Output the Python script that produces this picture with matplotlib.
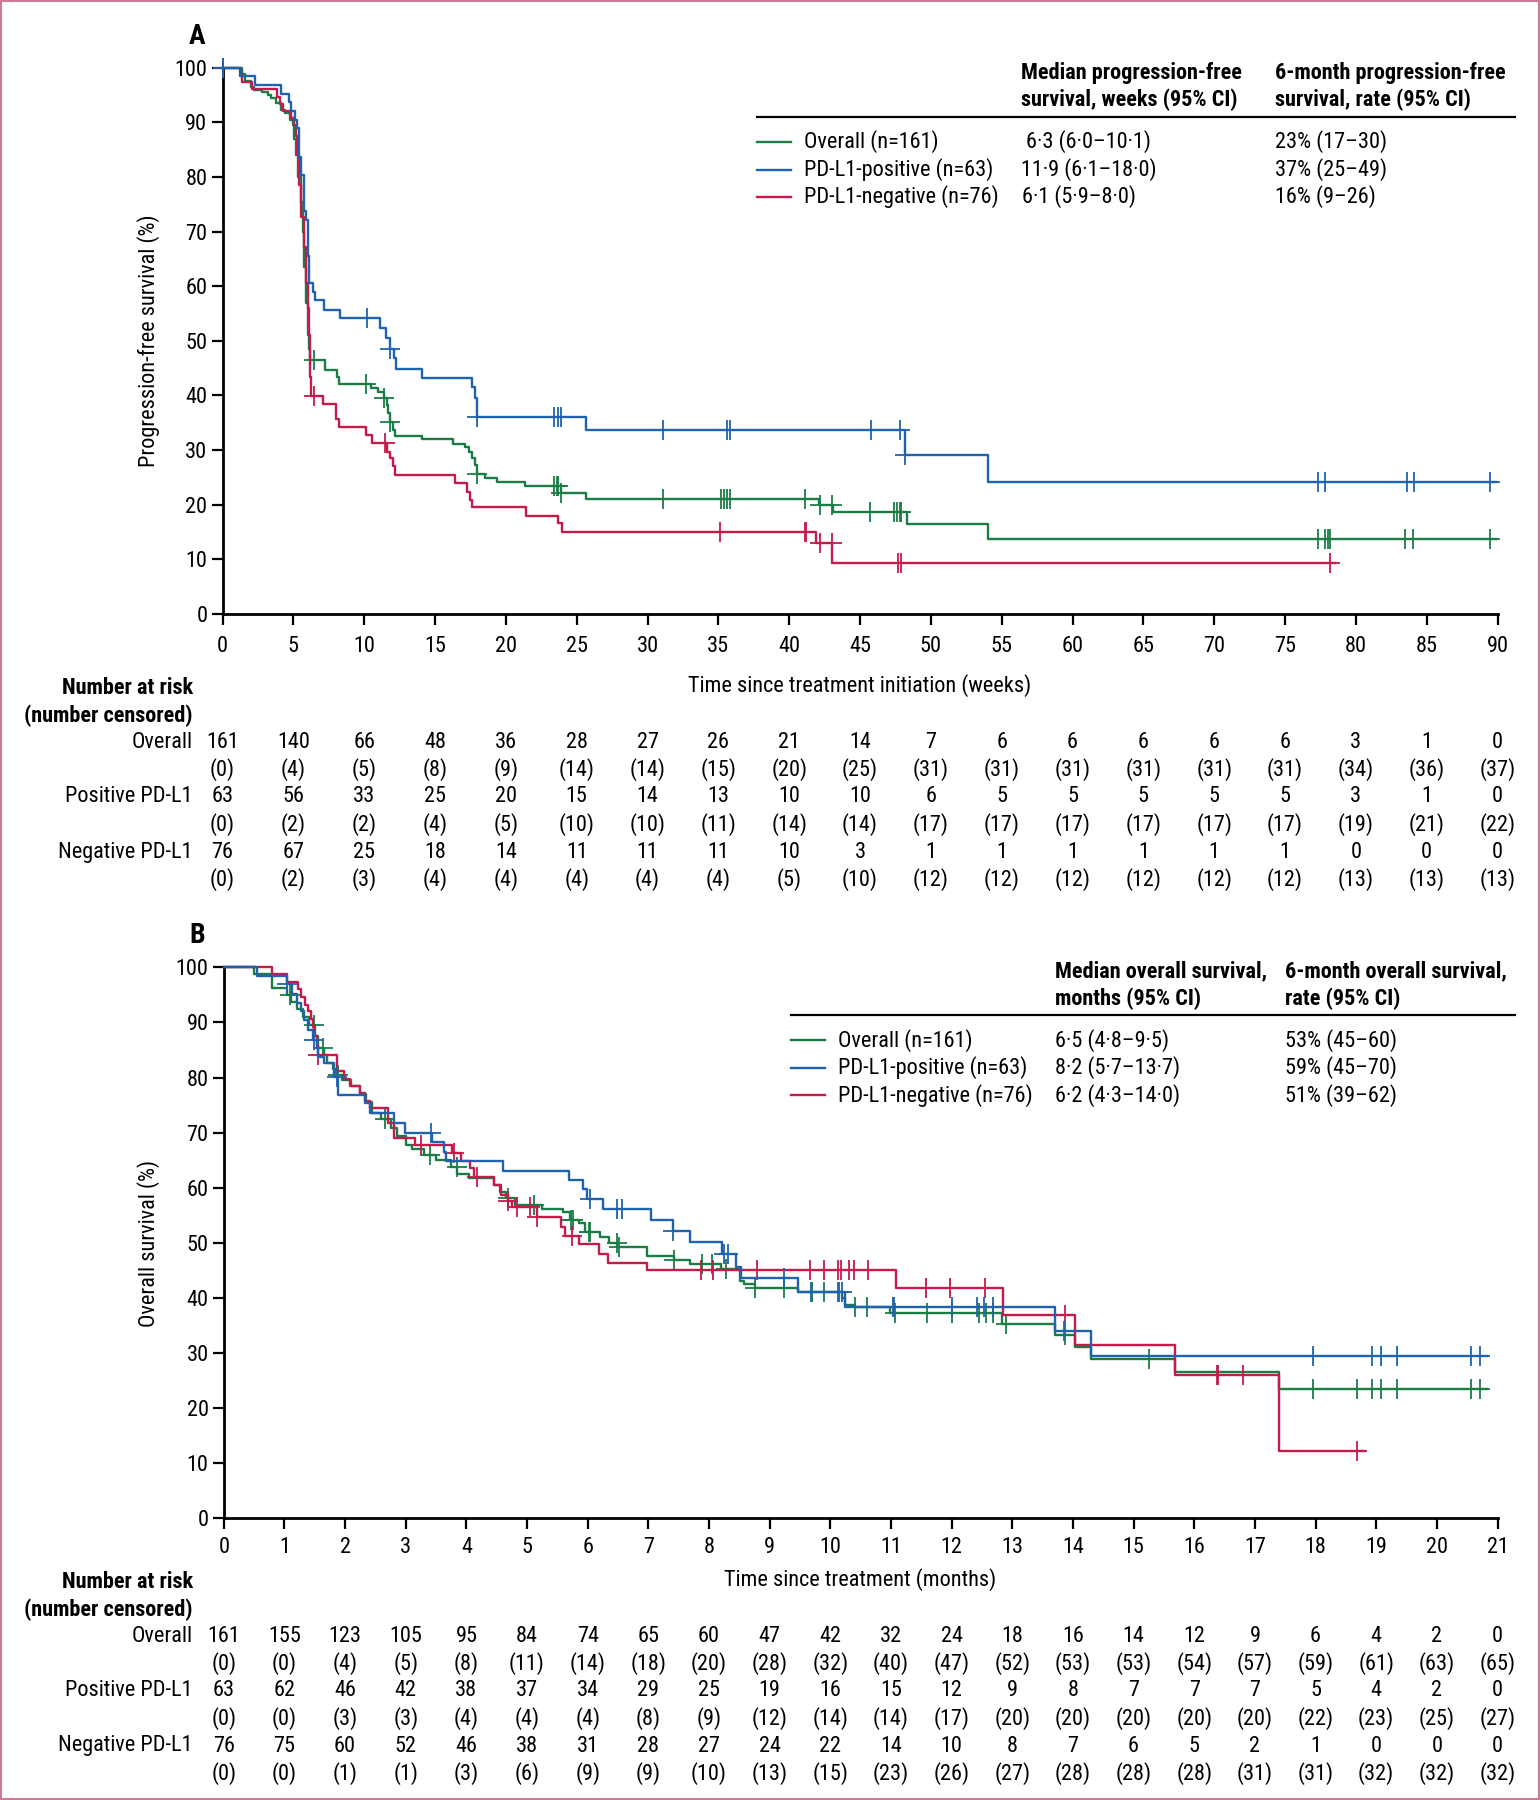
import numpy as np
import matplotlib
matplotlib.use('Agg')
import matplotlib.pyplot as plt
import matplotlib.transforms as mtransforms
from matplotlib.lines import Line2D
from matplotlib.patches import Rectangle
from matplotlib import font_manager

# pick a narrow font if there is one
names = {f.name for f in font_manager.fontManager.ttflist}
narrow = [n for n in ['Liberation Sans Narrow', 'DejaVu Sans Condensed', 'Roboto Condensed'] if n in names]
if narrow:
    FONT, FS = narrow[0], 16
else:
    FONT, FS = ('Roboto' if 'Roboto' in names else 'DejaVu Sans'), 13
plt.rcParams['font.family'] = [FONT, 'DejaVu Sans']
plt.rcParams['font.size'] = FS
BOLD = 'semibold'

GREEN = '#1a7d45'
BLUE = '#1f63ae'
RED = '#c51a4a'

# ---------------- panel A data (weeks) ----------------
pfs_all_t = [0, 1.4, 1.6, 2.0, 2.2, 2.8, 3.2, 3.45, 3.8, 4.1, 4.4, 4.75, 4.95, 5.05, 5.2, 5.35, 5.5, 5.65, 5.78, 5.9,
             6.02, 6.1, 6.16, 7.2, 8.05, 8.24, 10.5, 11.0, 11.4, 11.6, 11.7, 11.82, 12.0, 12.2, 14.1, 16.3, 17.1, 17.4,
             17.64, 17.8, 17.96, 18.5, 19.4, 21.35, 23.9, 25.66, 42.1, 43.1, 48.3, 54.05]
pfs_all_s = [100, 98.8, 97.5, 96.5, 96.0, 95.6, 95.0, 94.4, 93.5, 92.3, 91.7, 90.5, 89.5, 87.0, 84.0, 80.0, 75.5, 70.0,
             63.5, 57.0, 51.0, 48.5, 46.5, 44.7, 43.3, 42.1, 41.3, 40.7, 39.5, 38.3, 36.7, 35.2, 33.7, 32.6, 32.0, 31.1,
             30.6, 29.7, 28.5, 27.3, 25.6, 24.8, 24.2, 23.5, 22.1, 21.1, 20.0, 18.6, 16.4, 13.8]
pfs_all_cens = [6.48, 10.13, 11.4, 11.82, 17.96, 23.4, 23.6, 23.7, 23.9, 31.1, 35.2, 35.4, 35.6, 35.8, 41.1, 42.2, 43.0,
                45.7, 47.4, 47.6, 47.8, 47.9, 77.3, 77.8, 78.0, 78.2, 83.5, 84.0, 89.5]
pfs_all_end = 89.9

pfs_pos_t = [0, 1.2, 2.27, 4.1, 4.7, 4.84, 5.14, 5.27, 5.41, 5.54, 5.73, 5.86, 6.0, 6.11, 6.4, 6.54, 7.14, 8.3, 11.1,
             11.57, 11.82, 12.1, 12.26, 14.1, 17.64, 17.8, 17.96, 25.66, 48.2, 54.05]
pfs_pos_s = [100, 98.4, 96.8, 95.2, 93.7, 92.1, 90.5, 88.9, 83.6, 80.3, 73.8, 72.1, 65.6, 60.5, 59.0, 57.4, 55.7, 54.1,
             52.3, 50.5, 48.5, 46.8, 44.9, 43.1, 41.6, 39.5, 36.0, 33.6, 29.1, 24.1]
pfs_pos_cens = [0, 10.2, 11.82, 17.96, 23.4, 23.7, 23.9, 31.1, 35.6, 35.8, 45.76, 47.8, 48.2, 77.3, 77.8, 83.6, 84.1, 89.5]
pfs_pos_end = 89.9

pfs_neg_t = [0, 1.27, 1.4, 2.1, 3.84, 4.03, 4.24, 4.84, 5.05, 5.19, 5.27, 5.4, 5.54, 5.73, 5.86, 6.0, 6.08, 6.15, 6.2,
             6.26, 7.1, 7.99, 8.24, 10.13, 10.57, 11.6, 11.82, 12.0, 12.17, 16.38, 17.26, 17.48, 17.64, 21.4, 23.7,
             23.96, 41.9, 43.05]
pfs_neg_s = [100, 98.7, 97.4, 96.1, 94.7, 93.4, 92.1, 90.8, 89.5, 87.5, 84.0, 78.5, 72.7, 67.2, 60.5, 56.0, 51.0, 46.1,
             43.4, 39.9, 38.4, 35.6, 34.2, 32.7, 31.2, 29.7, 28.5, 27.0, 25.4, 23.9, 22.4, 20.8, 19.5, 18.0, 16.6, 15.0,
             13.0, 9.4]
pfs_neg_cens = [0, 6.48, 11.45, 35.1, 41.1, 41.2, 42.2, 43.0, 47.7, 47.9, 78.2]
pfs_neg_end = 78.5

weeks = list(range(0, 95, 5))
risk_a_all = [161, 140, 66, 48, 36, 28, 27, 26, 21, 14, 7, 6, 6, 6, 6, 6, 3, 1, 0]
cens_a_all = [0, 4, 5, 8, 9, 14, 14, 15, 20, 25, 31, 31, 31, 31, 31, 31, 34, 36, 37]
risk_a_pos = [63, 56, 33, 25, 20, 15, 14, 13, 10, 10, 6, 5, 5, 5, 5, 5, 3, 1, 0]
cens_a_pos = [0, 2, 2, 4, 5, 10, 10, 11, 14, 14, 17, 17, 17, 17, 17, 17, 19, 21, 22]
risk_a_neg = [76, 67, 25, 18, 14, 11, 11, 11, 10, 3, 1, 1, 1, 1, 1, 1, 0, 0, 0]
cens_a_neg = [0, 2, 3, 4, 4, 4, 4, 4, 5, 10, 12, 12, 12, 12, 12, 12, 13, 13, 13]

# ---------------- panel B data (months) ----------------
os_all_t = [0, 0.5, 0.8, 1.05, 1.1, 1.2, 1.3, 1.4, 1.5, 1.55, 1.65, 1.7, 1.8, 1.85, 1.95, 2.1, 2.25, 2.35, 2.45, 2.6,
            2.75, 2.85, 3.0, 3.1, 3.3, 3.5, 3.75, 3.85, 4.05, 4.45, 4.55, 4.65, 4.8, 5.25, 5.6, 5.7, 5.85, 5.95, 6.2,
            6.35, 6.49, 6.98, 7.42, 7.69, 8.2, 8.51, 8.57, 8.76, 9.47, 10.2, 10.25, 10.4, 10.98, 12.83, 13.71, 14.03,
            14.3, 15.69, 17.4]
os_all_s = [100, 98.8, 96.2, 95.0, 93.8, 92.5, 91.0, 89.5, 87.5, 85.3, 84.0, 82.7, 81.5, 80.5, 79.5, 78.5, 77.0, 75.5,
            73.5, 72.5, 70.8, 69.3, 67.8, 67.0, 66.0, 65.0, 63.8, 62.5, 61.7, 60.5, 59.2, 58.2, 56.8, 56.2, 55.5, 54.2,
            53.5, 52.0, 51.0, 49.9, 49.2, 47.6, 46.9, 46.1, 45.3, 43.1, 42.5, 41.8, 41.0, 39.9, 38.7, 38.4, 37.3, 35.3,
            33.3, 31.0, 28.9, 26.6, 23.4]
os_all_cens = [1.09, 1.49, 1.64, 1.89, 2.66, 3.4, 3.84, 4.68, 5.12, 5.73, 5.75, 6.02, 6.04, 6.48, 6.52, 7.42, 7.88,
               8.05, 8.28, 8.76, 9.24, 9.7, 9.9, 10.13, 10.41, 10.6, 11.07, 11.59, 12.0, 12.45, 12.56, 12.69, 12.9,
               13.87, 15.25, 17.96, 18.69, 18.93, 19.08, 19.34, 20.56, 20.71]
os_all_end = 20.83

os_pos_t = [0, 0.54, 1.05, 1.12, 1.21, 1.27, 1.33, 1.38, 1.47, 1.53, 1.56, 1.65, 1.82, 1.89, 2.33, 2.41, 2.8, 2.99,
            3.43, 3.63, 3.67, 4.61, 5.69, 5.93, 5.98, 6.25, 7.05, 7.41, 7.69, 8.22, 8.45, 8.52, 9.47, 10.25, 13.71, 14.3]
os_pos_s = [100, 98.4, 96.9, 95.2, 93.5, 92.0, 90.5, 88.7, 86.8, 85.3, 83.8, 82.7, 80.1, 76.8, 75.3, 73.6, 71.7, 70.0,
            68.3, 66.4, 64.8, 63.1, 61.4, 59.7, 57.9, 56.2, 54.2, 52.2, 50.1, 48.0, 45.5, 43.5, 41.0, 38.4, 33.9, 29.5]
os_pos_cens = [1.05, 1.49, 1.86, 3.41, 6.04, 6.49, 6.56, 7.41, 8.25, 8.32, 9.24, 9.68, 10.15, 10.2, 11.03, 11.05,
               12.0, 12.42, 12.54, 12.69, 13.86, 17.96, 18.93, 19.08, 19.34, 20.56, 20.71]
os_pos_end = 20.83

os_neg_t = [0, 0.79, 1.05, 1.23, 1.28, 1.34, 1.38, 1.43, 1.47, 1.49, 1.53, 1.56, 1.86, 1.99, 2.08, 2.25, 2.33, 2.41,
            2.71, 2.81, 3.15, 3.76, 3.91, 4.06, 4.13, 4.46, 4.57, 4.68, 4.75, 5.16, 5.56, 5.63, 5.85, 6.18, 6.33, 6.97,
            11.08, 12.85, 14.03, 15.69, 17.4]
os_neg_s = [100, 98.8, 97.4, 96.0, 94.6, 93.2, 92.0, 90.6, 89.2, 87.5, 85.9, 84.0, 81.2, 79.8, 78.5, 77.1, 75.8, 74.5,
            71.7, 69.0, 67.7, 66.3, 64.9, 63.5, 61.9, 60.4, 58.7, 57.6, 56.4, 54.6, 52.9, 51.3, 49.7, 47.9, 46.3, 45.0,
            41.7, 36.9, 31.4, 25.9, 12.2]
os_neg_cens = [1.56, 3.25, 3.8, 4.17, 4.68, 4.83, 5.05, 5.16, 5.74, 7.86, 8.07, 8.79, 9.66, 9.89, 10.13, 10.17, 10.3,
               10.39, 10.62, 11.57, 11.98, 12.55, 13.87, 16.37, 16.39, 16.81, 18.69]
os_neg_end = 18.8

months = list(range(0, 22))
risk_b_all = [161, 155, 123, 105, 95, 84, 74, 65, 60, 47, 42, 32, 24, 18, 16, 14, 12, 9, 6, 4, 2, 0]
cens_b_all = [0, 0, 4, 5, 8, 11, 14, 18, 20, 28, 32, 40, 47, 52, 53, 53, 54, 57, 59, 61, 63, 65]
risk_b_pos = [63, 62, 46, 42, 38, 37, 34, 29, 25, 19, 16, 15, 12, 9, 8, 7, 7, 7, 5, 4, 2, 0]
cens_b_pos = [0, 0, 3, 3, 4, 4, 4, 8, 9, 12, 14, 14, 17, 20, 20, 20, 20, 20, 22, 23, 25, 27]
risk_b_neg = [76, 75, 60, 52, 46, 38, 31, 28, 27, 24, 22, 14, 10, 8, 7, 6, 5, 2, 1, 0, 0, 0]
cens_b_neg = [0, 0, 1, 1, 3, 6, 9, 9, 10, 13, 15, 23, 26, 27, 28, 28, 28, 31, 31, 32, 32, 32]

groups = ['Overall (n=161)', 'PD-L1-positive (n=63)', 'PD-L1-negative (n=76)']
risk_rows = ['Overall', 'Positive PD-L1', 'Negative PD-L1']
med_a = ['6·3 (6·0–10·1)', '11·9 (6·1–18·0)', '6·1 (5·9–8·0)']
rate_a = ['23% (17–30)', '37% (25–49)', '16% (9–26)']
med_b = ['6·5 (4·8–9·5)', '8·2 (5·7–13·7)', '6·2 (4·3–14·0)']
rate_b = ['53% (45–60)', '59% (45–70)', '51% (39–62)']

# ---------------- drawing ----------------
W, H = 1540, 1800
DY = 3  # text nudge downwards, px


def fx(x):
    return x / W


def fy(y):
    return 1 - y / H


def ty(y):
    return 1 - (y + DY) / H


fig = plt.figure(figsize=(W / 100, H / 100), dpi=100)
axA = fig.add_axes([fx(222.6), fy(613.9), (1497.5 - 222.6) / W, (613.9 - 67.7) / H])
axB = fig.add_axes([fx(223.8), fy(1518), (1497.5 - 223.8) / W, (1518 - 967.4) / H])


def km(ax, t, s, end, cens, color):
    t = np.asarray(t, float)
    s = np.asarray(s, float)
    ax.step(np.append(t, end), np.append(s, s[-1]), where='post', color=color, lw=1.7, clip_on=False, zorder=3)
    idx = np.searchsorted(t, cens, side='right') - 1
    ax.plot(cens, s[idx], ls='none', marker='+', ms=14, mew=1.3, color=color, clip_on=False, zorder=3)


def style(ax, xmax, ticks, xpad):
    ax.set_xlim(0, xmax)
    ax.set_ylim(0, 100)
    ax.set_xticks(ticks)
    ax.set_yticks(range(0, 101, 10))
    for sp in ['top', 'right']:
        ax.spines[sp].set_visible(False)
    for sp in ['left', 'bottom']:
        ax.spines[sp].set_linewidth(2)
    ax.tick_params(direction='out', length=8, width=1.6, labelsize=FS)
    ax.tick_params(axis='x', pad=xpad)
    ax.tick_params(axis='y', pad=3)


km(axA, pfs_all_t, pfs_all_s, pfs_all_end, pfs_all_cens, GREEN)
km(axA, pfs_neg_t, pfs_neg_s, pfs_neg_end, pfs_neg_cens, RED)
km(axA, pfs_pos_t, pfs_pos_s, pfs_pos_end, pfs_pos_cens, BLUE)
style(axA, 90, weeks, 8)

km(axB, os_all_t, os_all_s, os_all_end, os_all_cens, GREEN)
km(axB, os_neg_t, os_neg_s, os_neg_end, os_neg_cens, RED)
km(axB, os_pos_t, os_pos_s, os_pos_end, os_pos_cens, BLUE)
style(axB, 21, months, 6)

# panel letters and axis titles
fig.text(fx(197), ty(33), 'A', fontsize=FS + 4, fontweight=BOLD, ha='center', va='center')
fig.text(fx(197), ty(932), 'B', fontsize=FS + 4, fontweight=BOLD, ha='center', va='center')
fig.text(fx(149), fy(341), 'Progression-free survival (%)', rotation=90, ha='center', va='center')
fig.text(fx(149), fy(1243), 'Overall survival (%)', rotation=90, ha='center', va='center')
fig.text(fx(860), ty(683), 'Time since treatment initiation (weeks)', ha='center', va='center')
fig.text(fx(860), ty(1577), 'Time since treatment (months)', ha='center', va='center')


def legend_table(hdr1, hdr2, y_hdr, x_med, x_rate, y_rule, x_line, x_label, y_rows, meds, rates, med_x):
    for i, (a, b) in enumerate(zip(hdr1, hdr2)):
        fig.text(fx(x_med), ty(y_hdr[i]), a, fontweight=BOLD, ha='left', va='center')
        fig.text(fx(x_rate), ty(y_hdr[i]), b, fontweight=BOLD, ha='left', va='center')
    fig.add_artist(Line2D([fx(x_line[0]), fx(1514.5)], [fy(y_rule + 1)] * 2, color='black', lw=1.6,
                          transform=fig.transFigure))
    for i, c in enumerate([GREEN, BLUE, RED]):
        fig.add_artist(Line2D([fx(x_line[0]), fx(x_line[1])], [ty(y_rows[i])] * 2, color=c, lw=1.7,
                              transform=fig.transFigure))
        fig.text(fx(x_label), ty(y_rows[i]), groups[i], ha='left', va='center')
        fig.text(fx(med_x[i]), ty(y_rows[i]), meds[i], ha='left', va='center')
        fig.text(fx(x_rate), ty(y_rows[i]), rates[i], ha='left', va='center')


legend_table(['Median progression-free', 'survival, weeks (95% CI)'],
             ['6-month progression-free', 'survival, rate (95% CI)'],
             [70, 97], 1020.7, 1275.4, 116, (756.6, 790.6), 803.7, [139, 166.5, 193.5],
             med_a, rate_a, [1026, 1020.7, 1022])
legend_table(['Median overall survival,', 'months (95% CI)'],
             ['6-month overall survival,', 'rate (95% CI)'],
             [968.5, 996], 1054.6, 1285.2, 1014.4, (790.6, 825), 837.7, [1037.3, 1064.9, 1092.4],
             med_b, rate_b, [1054.6, 1054.6, 1054.6])


def risk_table(ax, ticks, y_hdr, y_rows, rows):
    fig.text(fx(192.8), ty(y_hdr[0]), 'Number at risk', fontweight=BOLD, ha='right', va='center')
    fig.text(fx(192.8), ty(y_hdr[1]), '(number censored)', fontweight=BOLD, ha='right', va='center')
    trans = mtransforms.blended_transform_factory(ax.transData, fig.transFigure)
    for k, (name, risk, cens) in enumerate(rows):
        yr, yc = y_rows[2 * k], y_rows[2 * k + 1]
        fig.text(fx(192.8), ty(yr), name, ha='right', va='center')
        for t, r, c in zip(ticks, risk, cens):
            ax.text(t, ty(yr), str(r), transform=trans, ha='center', va='center', clip_on=False)
            ax.text(t, ty(yc), '(%d)' % c, transform=trans, ha='center', va='center', clip_on=False)


risk_table(axA, weeks, [685, 712.6], [739, 766.5, 794, 821.6, 849, 876.7],
           [(risk_rows[0], risk_a_all, cens_a_all), (risk_rows[1], risk_a_pos, cens_a_pos),
            (risk_rows[2], risk_a_neg, cens_a_neg)])
risk_table(axB, months, [1579, 1606.5], [1633, 1660.5, 1688, 1715.5, 1743, 1770.6],
           [(risk_rows[0], risk_b_all, cens_b_all), (risk_rows[1], risk_b_pos, cens_b_pos),
            (risk_rows[2], risk_b_neg, cens_b_neg)])

fig.add_artist(Rectangle((0.0008, 0.0007), 0.9984, 0.9986, fill=False, ec='#cc7a95', lw=1.5,
                         transform=fig.transFigure))

fig.savefig('out.png', dpi=100)
